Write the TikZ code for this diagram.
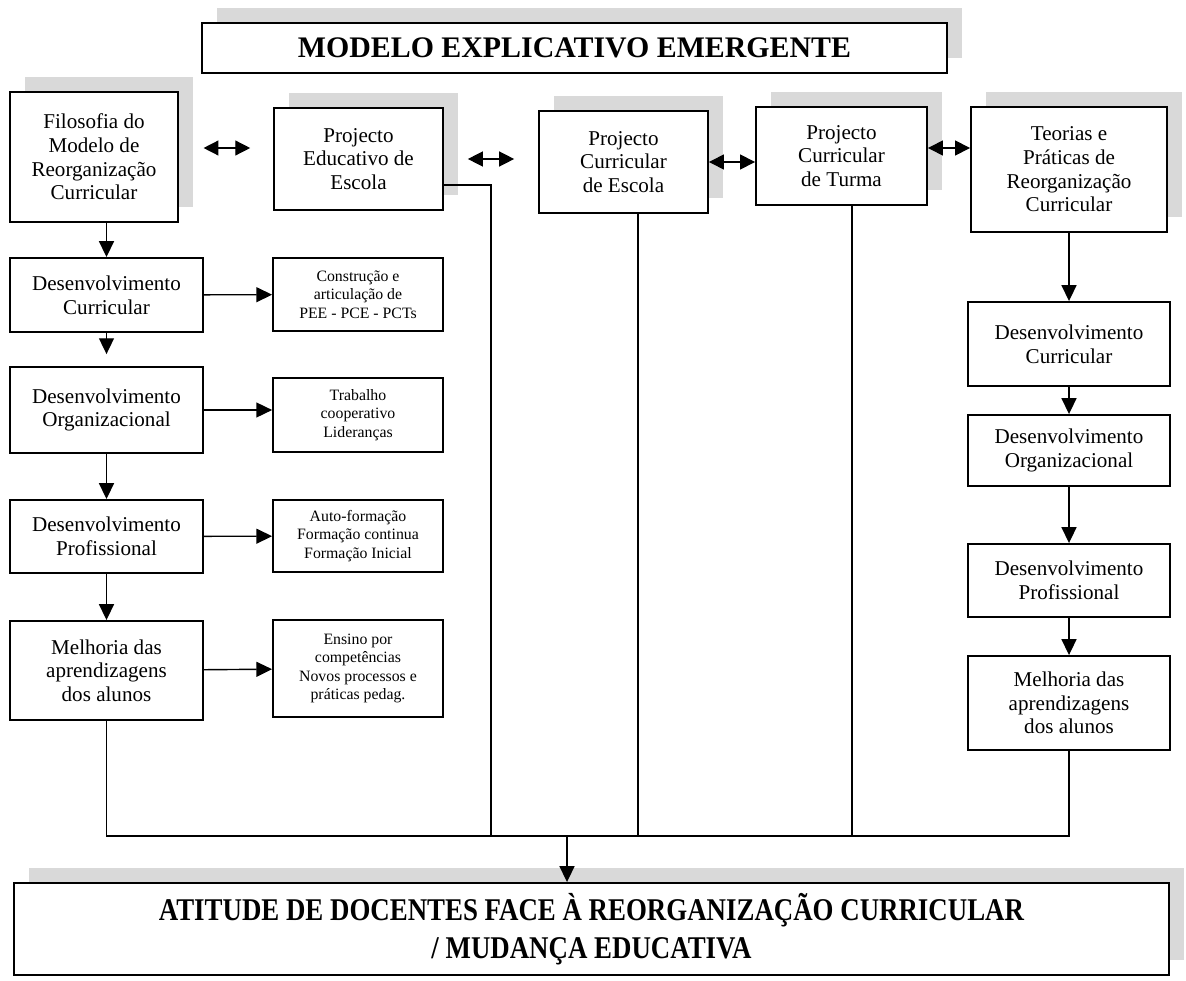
\documentclass[tikz,border=0pt]{standalone}
\usepackage{fontspec}
\usepackage{graphicx}
\setmainfont{Liberation Serif}
\usetikzlibrary{arrows.meta,calc,shadows}
\begin{document}
\begin{tikzpicture}[x=0.02cm,y=-0.02cm,
  box/.style={draw=black,line width=1.1pt,fill=white,inner sep=0pt,align=center,
    font=\fontsize{12}{13.5}\selectfont},
  small/.style={box,line width=1pt,font=\fontsize{9}{10.5}\selectfont},
  shad/.style={general shadow={fill=gray!30,shadow xshift=0.3cm,shadow yshift=0.3cm}},
  conn/.style={line width=0.8pt},
  arr/.style={conn,-{Triangle[length=9pt,width=8.5pt]}},
  dbl/.style={conn,{Triangle[length=8.5pt,width=8.5pt]}-{Triangle[length=8.5pt,width=8.5pt]}}
]
\useasboundingbox (0,0) rectangle (1186,980);
\fill[white] (0,0) rectangle (1186,980);

% title
\node[box,shad,minimum width=14.9cm,minimum height=1.0cm,
  font=\fontsize{17}{20}\selectfont\bfseries] (title) at (574.5,48) {MODELO EXPLICATIVO EMERGENTE};

% top row
\node[box,shad,minimum width=3.36cm,minimum height=2.6cm] (filo) at (94,157)
  {Filosofia do\\Modelo de\\Reorganização\\Curricular};
\node[box,shad,minimum width=3.38cm,minimum height=2.04cm] (pee) at (358.5,159)
  {Projecto\\Educativo de\\Escola};
\node[box,shad,minimum width=3.38cm,minimum height=2.04cm] (pce) at (623.5,162)
  {Projecto\\Curricular\\de Escola};
\node[box,shad,minimum width=3.42cm,minimum height=1.96cm] (pct) at (841.5,156)
  {Projecto\\Curricular\\de Turma};
\node[box,shad,minimum width=3.92cm,minimum height=2.5cm] (teo) at (1069,169.5)
  {Teorias e\\Práticas de\\Reorganização\\Curricular};

% left column
\node[box,minimum width=3.86cm,minimum height=1.48cm] (desc) at (106.5,295)
  {Desenvolvimento\\Curricular};
\node[box,minimum width=3.86cm,minimum height=1.72cm] (deso) at (106.5,410)
  {Desenvolvimento\\Organizacional};
\node[box,minimum width=3.86cm,minimum height=1.46cm] (desp) at (106.5,536.5)
  {Desenvolvimento\\Profissional};
\node[box,minimum width=3.86cm,minimum height=1.98cm] (mell) at (106.5,670.5)
  {Melhoria das\\aprendizagens\\dos alunos};

% small boxes
\node[small,minimum width=3.4cm,minimum height=1.46cm] (cons) at (358,294.5)
  {Construção e\\articulação de\\PEE - PCE - PCTs};
\node[small,minimum width=3.4cm,minimum height=1.48cm] (trab) at (358,415)
  {Trabalho\\cooperativo\\Lideranças};
\node[small,minimum width=3.4cm,minimum height=1.44cm] (auto) at (358,536)
  {Auto-formação\\Formação continua\\Formação Inicial};
\node[small,minimum width=3.4cm,minimum height=1.94cm] (ens) at (358,668.5)
  {Ensino por\\competências\\Novos processos e\\práticas pedag.};

% right column
\node[box,minimum width=4.04cm,minimum height=1.68cm] (rdc) at (1069,344)
  {Desenvolvimento\\Curricular};
\node[box,minimum width=4.04cm,minimum height=1.42cm] (rdo) at (1069,450.5)
  {Desenvolvimento\\Organizacional};
\node[box,minimum width=4.04cm,minimum height=1.46cm] (rdp) at (1069,580.5)
  {Desenvolvimento\\Profissional};
\node[box,minimum width=4.04cm,minimum height=1.88cm] (rml) at (1069,703)
  {Melhoria das\\aprendizagens\\dos alunos};

% final
\node[box,shad,minimum width=23.1cm,minimum height=1.84cm,
  font=\fontsize{18}{22}\selectfont\bfseries] (final) at (591.5,929)
  {\scalebox{0.85}[1]{ATITUDE DE DOCENTES FACE À REORGANIZAÇÃO CURRICULAR}\\
   \scalebox{0.85}[1]{/ MUDANÇA EDUCATIVA}};

% coordinates
\coordinate (bus) at (567,836);
\coordinate (peecorner) at (491,185);
\coordinate (pceL) at (638,836);
\coordinate (pctL) at (852,836);

% double arrows
\draw[dbl,shorten <=14pt,shorten >=13pt] ($(filo.east)+(0,-9)$) -- ($(filo.east -| pee.west)+(0,-9)$);
\draw[dbl,shorten <=13.6pt,shorten >=13.6pt] (pee.east) -- (pee.east -| pce.west);
\draw[dbl] (pce.east) -- (pce.east -| pct.west);
\draw[dbl] ($(pct.east)+(0,-8)$) -- ($(pct.east -| teo.west)+(0,-8)$);

% left chain
\draw[arr] (desc.north |- filo.south) -- (desc.north);
\draw[arr,shorten >=6.8pt] (desc) -- (deso);
\draw[arr] (deso) -- (desp);
\draw[arr] (desp) -- (mell);
\draw[arr] (desc) -- (cons);
\draw[arr] (deso.east) -- (deso.east -| trab.west);
\draw[arr] (desp) -- (auto);
\draw[arr] (mell) -- (ens);

% right chain
\draw[arr] (teo) -- (rdc);
\draw[arr] (rdc) -- (rdo);
\draw[arr] (rdo) -- (rdp);
\draw[arr] (rdp) -- (rml);

% bus
\draw[conn] (mell.south) -- (mell.south |- bus) -- (rml.south |- bus) -- (rml.south);
\draw[conn] (pee.east |- peecorner) -- (peecorner) -- (peecorner |- bus);
\draw[conn] (pce.south -| pceL) -- (pceL);
\draw[conn] (pct.south -| pctL) -- (pctL);
\draw[arr] (bus) -- (bus |- final.north);
\end{tikzpicture}
\end{document}
